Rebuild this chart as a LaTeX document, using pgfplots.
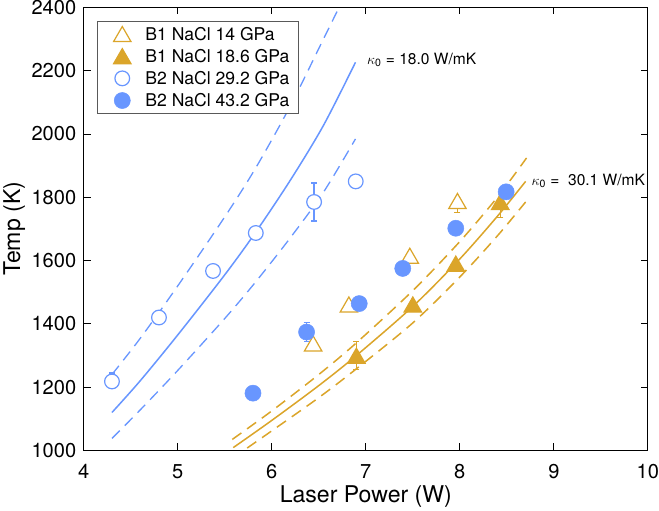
\documentclass[border=0pt]{standalone}
\usepackage{fontspec}
\setmainfont{TeX Gyre Heros}
\usepackage{pgfplots}
\pgfplotsset{compat=1.18}
\definecolor{cblue}{RGB}{104,150,255}
\definecolor{cgold}{RGB}{219,165,42}
\begin{document}
\begin{tikzpicture}
\begin{axis}[
  scale only axis, width=560bp, height=440bp,
  xmin=4, xmax=10, ymin=1000, ymax=2400,
  xtick={4,5,6,7,8,9,10}, ytick={1000,1200,1400,1600,1800,2000,2200,2400},
  tick align=inside, major tick length=7bp,
  tick style={black, line width=0.7bp},
  axis line style={black, line width=0.8bp},
  /pgf/number format/assume math mode=true,
  /pgf/number format/1000 sep={},
  ticklabel style={font=\fontsize{20}{24}\selectfont},
  xticklabel style={anchor=base, inner sep=0bp, yshift=-28bp},
  yticklabel style={anchor=east, inner sep=0bp, xshift=-7.3bp},
  label style={font=\fontsize{23}{27}\selectfont},
  xlabel={Laser Power (W)},
  ylabel={Temp (K)},
  xlabel style={at={(axis description cs:0.5,-0.1045)}, anchor=center},
  ylabel style={at={(axis description cs:-0.1232,0.5)}, anchor=center},
  legend style={at={(0.024,0.9698)}, anchor=north west, draw=black!65, line width=0.6bp,
    font=\fontsize{17.5}{21}\selectfont, inner xsep=8.5bp, inner ysep=2bp,
    cells={anchor=west},
    nodes={inner xsep=0bp, inner ysep=4.75bp, text height=12.5bp, text depth=0bp}},
  legend image code/.code={\path[draw=none, fill=none] (-16bp,-6bp) rectangle (23bp,6bp); \draw[#1,overlay] plot coordinates {(0bp,0bp)};},
]
% model curves, kappa0 = 18.0 W/mK
\addplot[cblue, line width=1.5bp, smooth, forget plot] coordinates {
 (4.30,1120) (4.6,1220) (5.0,1365) (5.5,1555) (5.83,1690) (6.2,1855) (6.55,2027) (6.89,2226)};
\addplot[cblue, line width=1.3bp, smooth, dash pattern=on 11bp off 7bp, forget plot] coordinates {
 (4.30,1240) (4.6,1354) (5.0,1520) (5.5,1738) (5.83,1893) (6.2,2090) (6.55,2300) (6.75,2420)};
\addplot[cblue, line width=1.3bp, smooth, dash pattern=on 11bp off 7bp, forget plot] coordinates {
 (4.30,1038) (4.6,1128) (5.0,1253) (5.5,1417) (5.83,1533) (6.2,1673) (6.55,1816) (6.89,1984)};
% model curves, kappa0 = 30.1 W/mK
\addplot[cgold, line width=1.5bp, smooth, forget plot] coordinates {
 (5.59,1009) (6.0,1095) (6.5,1205) (6.9,1300) (7.5,1455) (8.0,1605) (8.4,1740) (8.70,1850)};
\addplot[cgold, line width=1.5bp, smooth, dash pattern=on 11bp off 7bp, forget plot] coordinates {
 (5.58,1035) (6.0,1125) (6.5,1240) (6.9,1340) (7.5,1505) (8.0,1660) (8.4,1800) (8.71,1924)};
\addplot[cgold, line width=1.5bp, smooth, dash pattern=on 11bp off 7bp, forget plot] coordinates {
 (5.58,975) (6.0,1062) (6.5,1167) (6.9,1258) (7.5,1403) (8.0,1548) (8.4,1678) (8.70,1785)};
% error bars
\addplot[cgold, line width=1.2bp, only marks, mark=none, forget plot,
  error bars/.cd, y dir=both, y explicit, error bar style={line width=1.2bp},
  error mark options={rotate=90, mark size=3bp, line width=1.2bp}]
  coordinates {(7.975,1788) -= (0,37) (6.90,1299) +- (0,44) (8.43,1785) -= (0,50)};
\addplot[cblue, line width=1.2bp, only marks, mark=none, forget plot,
  error bars/.cd, y dir=both, y explicit, error bar style={line width=1.2bp},
  error mark options={rotate=90, mark size=3bp, line width=1.2bp}]
  coordinates {(4.30,1218) += (0,27) (6.45,1785) +- (0,60) (6.37,1374) +- (0,29)};
% data
\addplot[only marks, mark=triangle*, mark size=10bp,
  mark options={draw=cgold, fill=white, line width=1.2bp, yshift=-2.5bp}]
  coordinates {(6.44,1338) (6.82,1461) (7.468,1615) (7.975,1788)};
\addlegendentry{B1 NaCl 14 GPa}
\addplot[only marks, mark=triangle*, mark size=10bp,
  mark options={draw=cgold, fill=cgold, line width=1.2bp, yshift=-2.5bp}]
  coordinates {(6.90,1299) (7.50,1461) (7.957,1590) (8.43,1785)};
\addlegendentry{B1 NaCl 18.6 GPa}
\addplot[only marks, mark=*, mark size=7.3bp,
  mark options={draw=cblue, fill=white, line width=1.2bp}]
  coordinates {(4.30,1218) (4.80,1420) (5.375,1567) (5.83,1687) (6.45,1785) (6.893,1850)};
\addlegendentry{B2 NaCl 29.2 GPa}
\addplot[only marks, mark=*, mark size=8bp,
  mark options={draw=cblue, fill=cblue, line width=0.5bp}]
  coordinates {(5.80,1181) (6.37,1374) (6.93,1464) (7.393,1575) (7.957,1702) (8.493,1817)};
\addlegendentry{B2 NaCl 43.2 GPa}
\node[anchor=base west, inner sep=0bp, font=\fontsize{15.5}{18}\selectfont] at (axis cs:7.011,2220)
  {$\kappa_{\mbox{\fontsize{10.5}{12}\selectfont 0}}$ = 18.0 W/mK};
\node[anchor=base west, inner sep=0bp, font=\fontsize{15.5}{18}\selectfont] at (axis cs:8.761,1838)
  {$\kappa_{\mbox{\fontsize{10.5}{12}\selectfont 0}}$ =\ \ 30.1 W/mK};
\end{axis}
\end{tikzpicture}
\end{document}
